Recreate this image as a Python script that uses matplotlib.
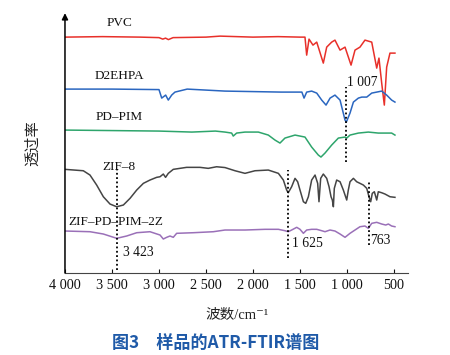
import matplotlib
matplotlib.use("Agg")
import matplotlib.pyplot as plt

plt.rcParams['font.family'] = ['Liberation Serif', 'Noto Sans CJK SC', 'DejaVu Serif']

# wavenumber (cm-1) / relative transmittance (arbitrary units, offset curves)
pvc_w = [4000, 3600, 3200, 3000, 2960, 2930, 2900, 2850, 2500, 2350, 2000, 1734, 1500,
         1447, 1429, 1404, 1362, 1322, 1252, 1216, 1163, 1128, 1074, 1021, 957, 915,
         862, 809, 737, 684, 660, 631, 603, 578, 543, 507, 490]
pvc_t = [236, 236.5, 236, 235.5, 234, 235, 233.5, 235.5, 236, 237, 236, 236.5, 236,
         236, 218, 234, 228, 231, 210, 226, 231, 233, 223, 226, 208, 223,
         226, 233, 231, 205, 215, 190, 168, 206, 220, 220, 220]

d2_w = [4000, 3500, 3000, 2971, 2929, 2901, 2865, 2830, 2700, 2298, 1700, 1480, 1457,
        1429, 1376, 1322, 1269, 1223, 1180, 1128, 1074, 1021, 1007, 968, 932, 879,
        843, 790, 737, 684, 631, 578, 525, 490]
d2_t = [184, 184, 183.5, 175, 178, 173, 178, 181, 184, 182, 181, 181, 175,
        181, 182, 180, 173, 168, 175, 178, 173, 153, 151, 160, 171, 175,
        176, 176, 180, 181, 182, 178, 173, 171]

pd_w = [4000, 3000, 2650, 2400, 2298, 2227, 2210, 2174, 2085, 1943, 1837, 1766, 1713,
        1660, 1553, 1447, 1376, 1305, 1277, 1234, 1163, 1092, 1021, 1003, 968, 879,
        773, 667, 596, 525, 490]
pd_t = [143, 142, 141, 142, 141, 140, 137, 140, 141, 141, 138, 133, 130,
        135, 138, 136, 126, 118, 116, 120, 128, 135, 136, 135, 138, 140,
        141, 140, 140, 140, 138]

zif_w = [4000, 3805, 3734, 3663, 3592, 3521, 3450, 3379, 3308, 3237, 3166, 3096, 3025,
         2989, 2954, 2930, 2901, 2848, 2706, 2564, 2476, 2387, 2298, 2191, 2085, 1979,
         1837, 1730, 1677, 1642, 1625, 1589, 1553, 1525, 1500, 1464, 1439, 1411, 1376,
         1340, 1312, 1298, 1280, 1252, 1216, 1191, 1170, 1156, 1145, 1135, 1110, 1074,
         1039, 1003, 986, 968, 932, 897, 862, 826, 790, 766, 748, 731, 709, 684, 667,
         631, 596, 543, 490]
zif_t = [103.7, 102.3, 98, 88, 76.3, 69, 66.3, 68, 74.7, 83, 89.7, 93, 95.7,
         96.3, 99, 95.7, 99.7, 103.7, 105.7, 105.7, 104.7, 106.3, 105.5, 102.3, 99.7, 102.3,
         103, 99.7, 93, 83, 80.3, 86.3, 94.7, 91.3, 83, 71.3, 69.7, 76.3, 93,
         98, 89.7, 71.3, 94.7, 99, 94.7, 86.3, 76.3, 73, 66.3, 84.7, 93, 91.3,
         83, 73, 83, 91.3, 94.7, 91.3, 89.7, 88, 84.7, 76.3, 71.3, 79.7, 81.3, 73, 81.3,
         80.3, 79, 76.3, 75.7]

zpp_w = [4000, 3734, 3592, 3450, 3344, 3237, 3096, 2989, 2954, 2918, 2883, 2848, 2812,
         2635, 2422, 2298, 2085, 1872, 1730, 1660, 1625, 1589, 1535, 1500, 1464, 1429,
         1376, 1322, 1269, 1234, 1181, 1128, 1074, 1021, 968, 915, 862, 809, 773, 737,
         684, 631, 588, 560, 525, 490]
zpp_t = [42, 41.3, 39, 34.7, 37, 40.3, 41.3, 38, 34, 35.7, 37, 35.7, 39.7,
         40.3, 41.3, 43, 43, 43.7, 43.7, 42.3, 41.3, 43, 45.7, 43.7, 39.7, 43,
         43.7, 43.7, 42.3, 41.3, 43, 42, 39, 35.7, 39.7, 43, 46.3, 47, 44.7, 49.7,
         50.7, 49, 48, 49, 47, 46.3]

names = ['PVC', 'D2EHPA', 'PD–PIM', 'ZIF–8', 'ZIF–PD–PIM–2Z']
name_pos = [(3415, 250), (3426, 197), (3426, 156), (3426, 106), (3457, 51)]

# marked bands: position, dotted line from/to, label position
marks = ['3 423', '1 625', '1 007', '763']
mark_w = [3450, 1628, 1007, 763]
mark_y = [(3, 104), (15, 103), (111, 186), (28, 93)]
mark_lab = [(3383, 21), (1585, 30), (1000, 191), (755, 33)]

fig = plt.figure(figsize=(4.5, 3.55), dpi=100)
ax = fig.add_axes([0.1444, 0.231, 0.7623, 0.732])

ax.plot(pvc_w, pvc_t, color='#e8302a', lw=1.1)
ax.plot(d2_w, d2_t, color='#2a66c0', lw=1.1)
ax.plot(pd_w, pd_t, color='#2ea56c', lw=1.1)
ax.plot(zif_w, zif_t, color='#454545', lw=1.1)
ax.plot(zpp_w, zpp_t, color='#9a70b8', lw=1.1)

for n, (x, y) in zip(names, name_pos):
    ax.text(x, y, n, fontsize=9.5, ha='center', va='center', color='#111111')

for lab, w, (y0, y1), (lx, ly) in zip(marks, mark_w, mark_y, mark_lab):
    ax.plot([w, w], [y0, y1], color='black', lw=1.3, linestyle=(0, (1, 1.4)))
    ax.text(lx, ly, lab, fontsize=9.8, ha='left', va='center', color='#111111')

ax.set_xlim(4000, 351)
ax.set_ylim(0, 260)
ax.set_xticks([4000, 3500, 3000, 2500, 2000, 1500, 1000, 500])
ax.set_xticklabels(['4 000', '3 500', '3 000', '2 500', '2 000', '1 500', '1 000', '500'],
                   fontsize=10.3)
ax.set_yticks([])
ax.tick_params(axis='x', direction='in', length=3, width=0.8, pad=4, colors='#111111')
for s in ['top', 'right', 'left']:
    ax.spines[s].set_visible(False)
ax.spines['bottom'].set_color('#444444')
ax.annotate('', xy=(0, 1.0), xytext=(0, 0), xycoords='axes fraction',
            arrowprops=dict(arrowstyle='-|>', color='black', lw=1.1,
                            mutation_scale=9, shrinkA=0, shrinkB=0))

fig.text(33 / 450, 1 - 143 / 355, '透过率', rotation=90, ha='center', va='center',
         fontsize=11, family=['Noto Sans CJK SC'], color='#222222')
fig.text(237 / 450, 1 - 315 / 355, '波数/cm⁻¹', ha='center', va='center',
         fontsize=10.5, color='#222222')
fig.text(216 / 450, 1 - 343 / 355, '图3\u3000样品的ATR-FTIR谱图', ha='center', va='center',
         fontsize=12.3, family=['Noto Sans CJK SC'], color='#1f5aa8', fontweight='bold')

fig.savefig('out.png', dpi=100)
